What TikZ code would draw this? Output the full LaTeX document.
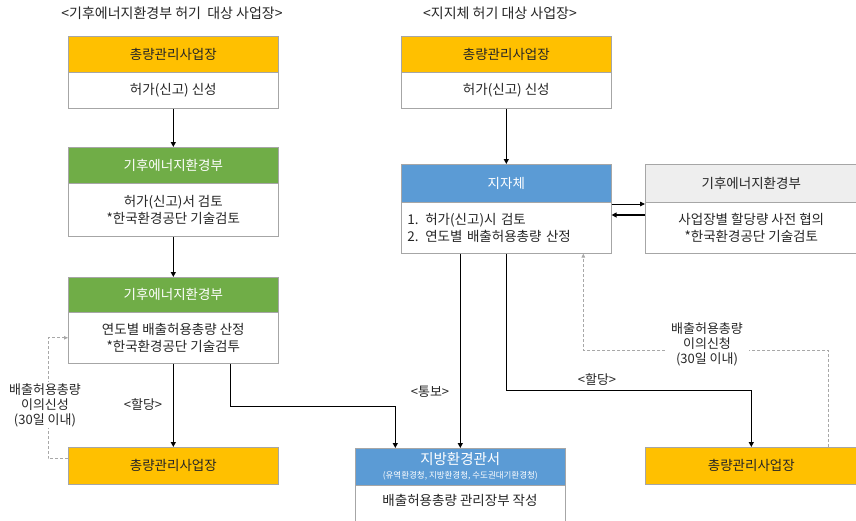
\documentclass[tikz,border=0pt]{standalone}
\usepackage{fontspec}
\setmainfont{Noto Sans CJK KR}
\usetikzlibrary{arrows.meta,calc}
\definecolor{cOrange}{HTML}{FFC000}
\definecolor{cGreen}{HTML}{70AD47}
\definecolor{cBlue}{HTML}{5B9BD5}
\definecolor{cGrayHead}{HTML}{EEEEEE}
\definecolor{cBorder}{HTML}{A6A6A6}
\definecolor{cText}{HTML}{262626}
\definecolor{cDash}{HTML}{A8A8A8}
\begin{document}
\begin{tikzpicture}[x=1pt,y=-1pt,
  every node/.style={text=cText},
  boxbase/.style={draw=cBorder, line width=0.6pt, inner sep=0pt, anchor=north west,
    align=center, font=\fontsize{13.5}{17}\selectfont},
  headorange/.style={boxbase, fill=cOrange, minimum width=210pt, minimum height=36pt},
  headgreen/.style={boxbase, fill=cGreen, text=white, minimum width=210pt, minimum height=36pt},
  headblue/.style={boxbase, fill=cBlue, text=white, minimum width=210pt, minimum height=38pt},
  headgray/.style={boxbase, fill=cGrayHead, minimum width=212pt, minimum height=38pt},
  bodybox/.style={boxbase, fill=white, minimum width=210pt},
  titletext/.style={font=\fontsize{14}{16}\selectfont},
  lbl/.style={font=\fontsize{13}{15}\selectfont, align=center},
  arr/.style={draw=black, line width=1.3pt, -{Triangle[length=5pt,width=5pt]}},
  thinarr/.style={draw=black, line width=0.8pt, -{Triangle[length=5pt,width=4.5pt]}},
  dasharr/.style={draw=cDash, line width=0.8pt, dashed, dash pattern=on 3pt off 2pt, -{Triangle[length=4pt,width=3.5pt]}}
]
\useasboundingbox (0,0) rectangle (856,520);
\fill[white] (0,0) rectangle (856,520);

% titles
\node[titletext] (t1) at (172,13) {<기후에너지환경부 허기\ \ 대상 사업장>};
\node[titletext] (t2) at (500,13) {<지지체 허기 대상 사업장>};

% left column
\node[headorange] (L1h) at (68,36) {총량관리사업장};
\node[bodybox, minimum height=36pt] (L1b) at (68,72) {허가(신고) 신성};
\node[headgreen] (L2h) at (68,147) {기후에너지환경부};
\node[bodybox, minimum height=53pt] (L2b) at (68,183) {허가(신고)서 검토\\*한국환경공단 기술검토};
\node[headgreen, minimum height=35pt] (L3h) at (68,277) {기후에너지환경부};
\node[bodybox, minimum height=51pt] (L3b) at (68,312) {연도별 배출허용총량 산정\\*한국환경공단 기술검투};
\node[headorange, minimum height=37pt] (L4) at (68,447) {총량관리사업장};

% right column
\node[headorange] (R1h) at (401,36) {총량관리사업장};
\node[bodybox, minimum height=36pt] (R1b) at (401,72) {허가(신고) 신성};
\node[headblue] (Rjh) at (401,164) {지자체};
\node[bodybox, minimum height=51pt, align=left, text width=198pt, inner xsep=6pt] (Rjb) at (401,202) {1. 허가(신고)시 검토\\2. 연도별 배출허용총량 산정};
\node[headgray] (Gh) at (645,164) {기후에너지환경부};
\node[bodybox, minimum width=212pt, minimum height=51pt] (Gb) at (645,202) {사업장별 할당량 사전 협의\\*한국환경공단 기술검토};
\node[headblue, minimum height=37pt] (Dh) at (355,448) {\fontsize{14.5}{15}\selectfont 지방환경관서\\[-3pt]\fontsize{8.5}{9}\selectfont (유역환경청, 지방환경청, 수도권대기환경청)};
\node[bodybox, minimum height=40pt, text depth=0pt] (Db) at (355,485) {};
\node[font=\fontsize{13.5}{17}\selectfont] (DbT) at (460,500) {배출허용총량 관리장부 작성};
\node[headorange, minimum width=212pt, minimum height=37pt] (R4) at (645,447) {총량관리사업장};

% connectors left
\draw[arr] (L1b.south) -- (L2h.north);
\draw[arr] (L2b.south) -- (L3h.north);
\draw[arr] (L3b.south) -- (L4.north);
\node[lbl] (a1) at (143,405) {<할당>};
\draw[arr] ([xshift=57pt]L3b.south) -- ++(0,43) -| ([xshift=-65pt]Dh.north);
\draw[dasharr] ([yshift=7pt]L4.west) -- ++(-20,0) |- (L3b.west);
\node[lbl, fill=white, inner sep=1pt] (f1) at (45,405) {배출허용총량\\이의신성\\(30일 이내)};

% connectors right
\draw[arr] (R1b.south) -- (Rjh.north);
\draw[thinarr] ([yshift=-2pt]Rjb.north east) -- ([yshift=-2pt]Gb.north west);
\draw[arr] ([yshift=-13pt]Gb.north west) -- ([yshift=-13pt]Rjb.north east);
\draw[arr] (Rjb.south -| Dh.north) -- (Dh.north);
\node[lbl] (a2) at (430,392) {<통보>};
\draw[arr] (Rjb.south) -- ++(0,137) -| (R4.north);
\node[lbl] (a3) at (597,380) {<할당>};
\draw[dasharr] ([xshift=77pt]R4.north) -- ++(0,-97) -| ([xshift=77pt]Rjb.south);
\node[lbl, fill=white, inner xsep=6pt, inner ysep=1pt] (f2) at (707,344) {배출허용총량\\이의신청\\(30일 이내)};
\end{tikzpicture}
\end{document}
